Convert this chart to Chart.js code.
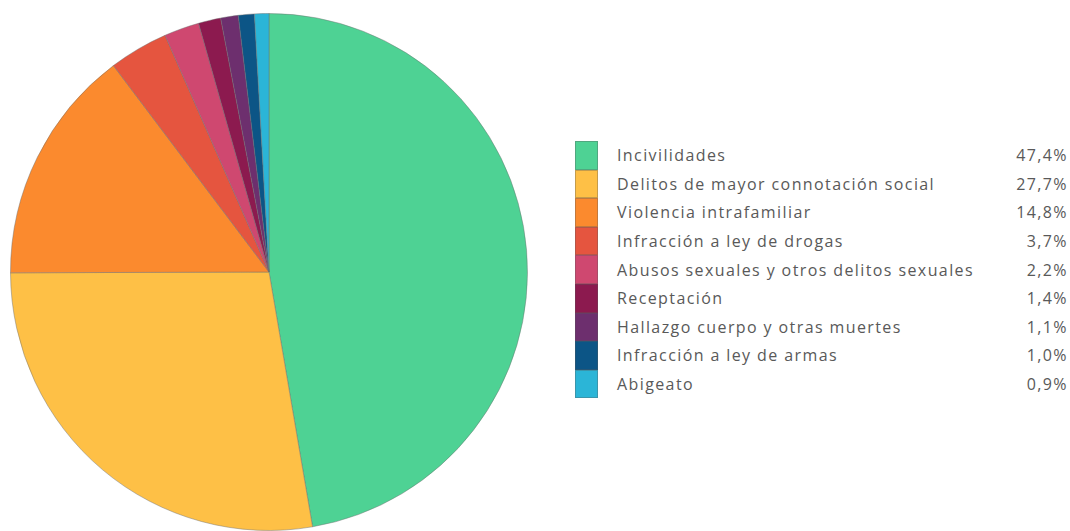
<!DOCTYPE html>
<html>
<head>
<meta charset="utf-8">
<script src="https://cdn.jsdelivr.net/npm/chart.js@4"></script>
<style>
  body { margin: 0; background: #fff; width: 1070px; height: 531px; overflow: hidden; position: relative; }
  #pieBox { position: absolute; left: 0; top: 0; width: 540px; height: 531px; }
  #legend { position: absolute; left: 575px; top: 141px; width: 493px; font-family: "Open Sans", sans-serif; font-size: 16px; letter-spacing: 1.4px; color: #595959; }
  .row { display: flex; align-items: center; height: 28.6px; }
  .box { width: 23px; height: 28.6px; box-sizing: border-box; border: 1px solid rgba(90,90,90,0.35); margin-right: 19px; }
  .lbl { flex: 1; white-space: nowrap; }
  .val { text-align: right; }
</style>
</head>
<body>
<div id="pieBox"><canvas id="pie"></canvas></div>
<div id="legend"></div>
<script>
const categories = [
  "Incivilidades",
  "Delitos de mayor connotación social",
  "Violencia intrafamiliar",
  "Infracción a ley de drogas",
  "Abusos sexuales y otros delitos sexuales",
  "Receptación",
  "Hallazgo cuerpo y otras muertes",
  "Infracción a ley de armas",
  "Abigeato"
];
const shares = [47.4, 27.7, 14.8, 3.7, 2.2, 1.4, 1.1, 1.0, 0.9];
const colors = ["#4ed294", "#fec046", "#fb8a2e", "#e5553f", "#cf4870", "#8c1a4f", "#6d2f6e", "#0c5586", "#2bb5d7"];

const fmt = (v) => v.toFixed(1).replace(".", ",") + "%";

const legend = document.getElementById("legend");
categories.forEach((c, i) => {
  const row = document.createElement("div");
  row.className = "row";
  row.innerHTML = '<div class="box" style="background:' + colors[i] + '"></div>' +
    '<div class="lbl">' + c + '</div><div class="val">' + fmt(shares[i]) + '</div>';
  legend.appendChild(row);
});

new Chart(document.getElementById("pie"), {
  type: "pie",
  data: {
    labels: categories,
    datasets: [{
      data: shares,
      backgroundColor: colors,
      borderColor: "rgba(110,110,110,0.45)",
      borderWidth: 1
    }]
  },
  options: {
    responsive: true,
    maintainAspectRatio: false,
    animation: false,
    layout: { padding: { left: 10, right: 12, top: 13, bottom: 0 } },
    plugins: {
      legend: { display: false },
      tooltip: { enabled: false }
    }
  }
});
</script>
</body>
</html>
